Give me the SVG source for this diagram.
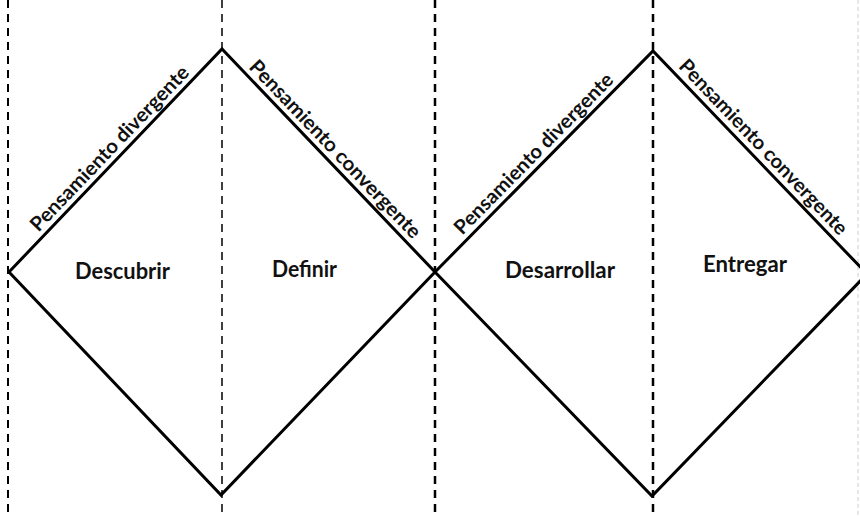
<svg xmlns="http://www.w3.org/2000/svg" width="860" height="517" viewBox="0 0 860 517">
  <style>
    .guide { stroke: #000; fill: none; stroke-dasharray: 8 6; }
    .shape { stroke: #000; stroke-width: 3; fill: none; stroke-linejoin: miter; }
    .phase { font-family: Lato, "Liberation Sans", sans-serif; font-weight: bold; font-size: 22px; fill: #111; text-anchor: middle; }
    .mode { font-family: Lato, "Liberation Sans", sans-serif; font-weight: bold; font-size: 20px; fill: #111; text-anchor: middle; }
  </style>
  <rect x="0" y="0" width="860" height="517" fill="#fff"/>
  <g id="guides">
    <line class="guide" x1="8" y1="0" x2="8" y2="517" stroke-width="2"/>
    <line class="guide" x1="222" y1="0" x2="222" y2="517" stroke-width="1.5"/>
    <line class="guide" x1="435" y1="0" x2="435" y2="517" stroke-width="2.5"/>
    <line class="guide" x1="653" y1="0" x2="653" y2="517" stroke-width="2.5"/>
    <line x1="858" y1="0" x2="858" y2="517" stroke="#d0d0d0" stroke-width="1" stroke-dasharray="4 3"/>
  </g>
  <g id="connectors">
    <polygon class="shape" points="9,272 222,49 435,272 221,495"/>
    <polygon class="shape" points="435,272 653,51 867,274 652,496"/>
  </g>
  <g id="label-divergente-1">
    <text class="mode" transform="translate(114.4,153.1) rotate(-46.3)" textLength="220" lengthAdjust="spacingAndGlyphs">Pensamiento divergente</text>
  </g>
  <g id="label-convergente-1">
    <text class="mode" transform="translate(330.3,153.8) rotate(46.3)" textLength="238" lengthAdjust="spacingAndGlyphs">Pensamiento convergente</text>
  </g>
  <g id="label-divergente-2">
    <text class="mode" transform="translate(538.5,158.4) rotate(-45.4)" textLength="217" lengthAdjust="spacingAndGlyphs">Pensamiento divergente</text>
  </g>
  <g id="label-convergente-2">
    <text class="mode" transform="translate(758.5,151.7) rotate(46.3)" textLength="234" lengthAdjust="spacingAndGlyphs">Pensamiento convergente</text>
  </g>
  <g id="descubrir">
    <text class="phase" x="122.5" y="279" textLength="95" lengthAdjust="spacingAndGlyphs">Descubrir</text>
  </g>
  <g id="definir">
    <text class="phase" x="304.5" y="277" textLength="65" lengthAdjust="spacingAndGlyphs">Definir</text>
  </g>
  <g id="desarrollar">
    <text class="phase" x="560" y="278" textLength="110" lengthAdjust="spacingAndGlyphs">Desarrollar</text>
  </g>
  <g id="entregar">
    <text class="phase" x="745" y="272" textLength="84" lengthAdjust="spacingAndGlyphs">Entregar</text>
  </g>
</svg>
